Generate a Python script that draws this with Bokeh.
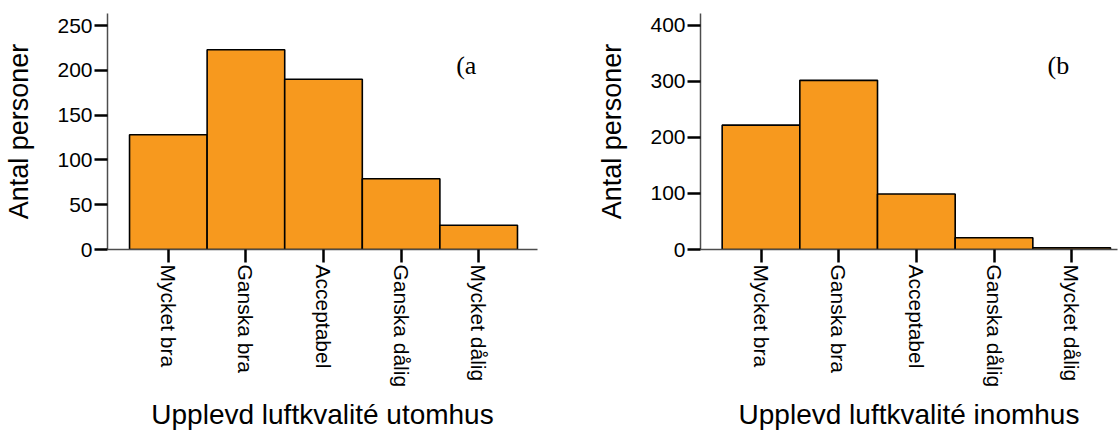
import math
from bokeh.plotting import figure
from bokeh.layouts import row
from bokeh.models import Range1d, FixedTicker, Label
from bokeh.embed import file_html
from bokeh.resources import INLINE

categories = ["Mycket bra", "Ganska bra", "Acceptabel", "Ganska dålig", "Mycket dålig"]
outdoor_counts = [128, 223, 190, 79, 27]
indoor_counts = [222, 302, 99, 21, 3]
outdoor_yticks = [0, 50, 100, 150, 200, 250]
indoor_yticks = [0, 100, 200, 300, 400]
outdoor_title = "Upplevd luftkvalité utomhus"
indoor_title = "Upplevd luftkvalité inomhus"
y_title = "Antal personer"

BAR = "#F7991E"
AXIS = "#4d4d4d"
SANS = "Liberation Sans"


def make_panel(counts, yticks, ymax, xr, tag, tag_pos, xtitle, border_left, border_right):
    p = figure(width=559, height=434, output_backend="svg", toolbar_location=None,
               x_range=Range1d(*xr), y_range=Range1d(0, ymax),
               min_border_left=border_left, min_border_right=border_right,
               min_border_top=13, min_border_bottom=185)
    xs = [i + 0.5 for i in range(len(categories))]
    p.vbar(x=xs, top=counts, width=1.0, bottom=0, fill_color=BAR,
           line_color="black", line_width=1.6)
    p.grid.visible = False
    p.outline_line_color = None
    p.background_fill_color = "white"
    p.border_fill_color = "white"

    xa = p.xaxis[0]
    xa.ticker = FixedTicker(ticks=xs)
    xa.major_label_overrides = {x: c for x, c in zip(xs, categories)}
    xa.major_label_orientation = -math.pi / 2
    xa.major_label_standoff = 2
    xa.major_label_text_font = SANS
    xa.major_label_text_font_size = "21px"
    xa.major_label_text_color = "black"
    xa.axis_label = xtitle
    xa.axis_label_text_font = SANS
    xa.axis_label_text_font_size = "28px"
    xa.axis_label_text_font_style = "normal"
    xa.axis_label_text_color = "black"
    xa.axis_label_standoff = 9

    ya = p.yaxis[0]
    ya.ticker = FixedTicker(ticks=yticks)
    ya.major_label_standoff = 2
    ya.major_label_text_font = SANS
    ya.major_label_text_font_size = "21px"
    ya.major_label_text_color = "black"
    ya.axis_label = y_title
    ya.axis_label_text_font = SANS
    ya.axis_label_text_font_size = "27px"
    ya.axis_label_text_font_style = "normal"
    ya.axis_label_text_color = "black"
    ya.axis_label_standoff = 20

    for ax in (xa, ya):
        ax.axis_line_color = AXIS
        ax.axis_line_width = 1.5
        ax.major_tick_line_color = "black"
        ax.major_tick_line_width = 2.5
        ax.major_tick_out = 13
        ax.major_tick_in = 0
        ax.minor_tick_line_color = None

    p.add_layout(Label(x=tag_pos[0], y=tag_pos[1], text=tag,
                       text_align="left", text_baseline="alphabetic",
                       text_font="Liberation Serif", text_font_size="26px",
                       text_color="black"))
    return p


pa = make_panel(outdoor_counts, outdoor_yticks, 263.4, (-0.284, 5.258), "(a", (4.21, 205.6),
                outdoor_title, 107, 22)
pb = make_panel(indoor_counts, indoor_yticks, 421.4, (-0.279, 5.09), "(b", (4.19, 329),
                indoor_title, 141, 1)

layout = row(pa, pb)
open("out.html", "w").write(file_html(layout, INLINE))
